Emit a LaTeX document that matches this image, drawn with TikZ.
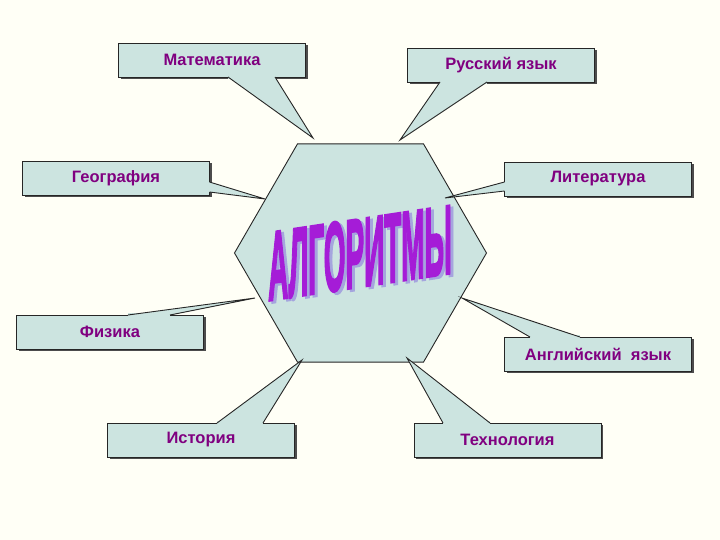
\documentclass[tikz,border=0pt]{standalone}
\usepackage{fontspec}
\setmainfont{Liberation Sans}
\newfontfamily\algfont[BoldFeatures={FakeBold=3}]{Liberation Sans}
\usetikzlibrary{shapes.geometric,shadows}

\definecolor{paper}{RGB}{255,255,246}
\definecolor{boxfill}{RGB}{204,228,224}
\definecolor{subjtext}{RGB}{128,0,128}
\definecolor{algcol}{RGB}{165,28,215}
\definecolor{algshade}{RGB}{165,165,222}

\begin{document}
\begin{tikzpicture}[x=1pt, y=-1pt]
\tikzstyle{subj}=[rectangle, draw=black!85, line width=0.9pt, fill=boxfill, minimum width=187pt, minimum height=34pt, inner sep=0pt, text=subjtext, font=\bfseries\fontsize{16.5}{18}\selectfont, drop shadow={shadow xshift=2pt, shadow yshift=-2pt, fill=black!70, opacity=1}]
\tikzstyle{pointer}=[draw=black!85, line width=0.9pt, line join=miter]
\tikzstyle{wordart}=[transform shape, xscale=0.285, inner sep=0pt, font=\algfont\bfseries\fontsize{98}{98}\selectfont]
  \useasboundingbox (0,0) rectangle (720,540);
  \fill[paper] (0,0) rectangle (720,540);
  \node[regular polygon, regular polygon sides=6, minimum size=252pt, inner sep=0pt, draw=black!85, line width=0.9pt, fill=boxfill] (hex) at (360.5,253) {};
  % subjects
  \node[subj] (mat) at (212,60) {Математика};
  \node[subj] (rus) at (501,65) {Русский язык};
  \node[subj] (geo) at (116,178) {География};
  \node[subj] (lit) at (598,179) {Литература};
  \node[subj] (fiz) at (110,332) {Физика};
  \node[subj] (eng) at (598,354) {Английский\ \ язык};
  \node[subj] (ist) at (201,440) {История};
  \node[subj] (tech) at (507.5,440) {Технология};
  % callout pointers
  \coordinate (mat1) at (228,77);    \coordinate (mat2) at (275,77);    \coordinate (matp) at (313,138);
  \coordinate (rus1) at (440,82);    \coordinate (rus2) at (487,82);    \coordinate (rusp) at (400,140);
  \coordinate (geo1) at (209.5,182); \coordinate (geo2) at (209.5,192); \coordinate (geop) at (265,199);
  \coordinate (lit1) at (504.5,182); \coordinate (lit2) at (504.5,191); \coordinate (litp) at (445,198);
  \coordinate (fiz1) at (128,315);   \coordinate (fiz2) at (170,315);   \coordinate (fizp) at (255,298);
  \coordinate (eng1) at (530,337);   \coordinate (eng2) at (580,337);   \coordinate (engp) at (462,298);
  \coordinate (ist1) at (217,423);   \coordinate (ist2) at (263,423);   \coordinate (istp) at (302,360);
  \coordinate (tech1) at (443,423);  \coordinate (tech2) at (490,423);  \coordinate (techp) at (407,358);
  \foreach \s in {mat,rus,geo,lit,fiz,eng,ist,tech} {
    \fill[boxfill] (\s1) -- (\s p) -- (\s2) -- cycle;
    \draw[boxfill, line width=3.4pt] (\s1) -- (\s2);
    \draw[pointer] (\s1) -- (\s p) -- (\s2);
  }
  % word art
  \begin{scope}[shift={(360,253)}, yslant=0.15]
    \node[wordart, text=algshade] (algshadow) at (3,2.5) {АЛГОРИТМЫ};
    \node[wordart, text=algcol] (alg) at (0,0) {АЛГОРИТМЫ};
  \end{scope}
\end{tikzpicture}
\end{document}
